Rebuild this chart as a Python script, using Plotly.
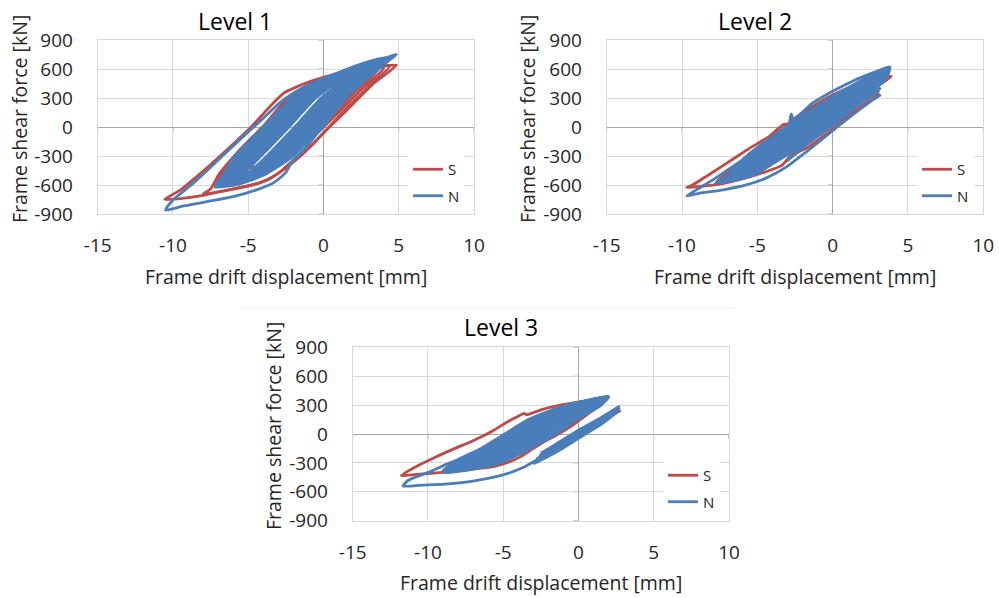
import plotly.graph_objects as go

W, H = 999, 598
RED = "#BE4B48"
BLUE = "#4A7EBB"
FONT = "Open Sans"
TXT = "#262626"

LEVELS = ["Level 1", "Level 2", "Level 3"]
SERIES = ["S", "N"]
X_TICKS = [-15, -10, -5, 0, 5, 10]
Y_TICKS = [-900, -600, -300, 0, 300, 600, 900]
X_TITLE = "Frame drift displacement [mm]"
Y_TITLE = "Frame shear force [kN]"

# Hysteresis cycles as (drift [mm], shear [kN]) pairs.
# LOOPS: closed cycles (right peak -> unloading -> left peak -> reloading).
# BRANCHES: open load paths.

# ---------------- Level 1 ----------------
L1_S_LOOPS = [
    [(3.2, 560), (1.8, 350), (0.3, 100), (-1.3, -120), (-3.0, -320), (-4.4, -410), (-5.6, -420),
     (-5.0, -280), (-3.9, -90), (-2.4, 120), (-0.8, 320), (0.8, 450), (2.1, 520)],
    [(3.6, 590), (2.2, 380), (0.6, 120), (-1.0, -110), (-2.8, -330), (-4.5, -450), (-6.5, -500),
     (-5.9, -360), (-4.8, -170), (-3.2, 60), (-1.5, 300), (0.4, 460), (2.0, 550)],
    [(4.0, 610), (2.6, 400), (1.0, 150), (-0.6, -90), (-2.4, -330), (-4.2, -480), (-5.8, -540), (-7.0, -560),
     (-6.5, -420), (-5.4, -230), (-3.8, 10), (-2.0, 300), (0.2, 480), (2.2, 570)],
    [(4.4, 630), (3.0, 420), (1.4, 170), (0.0, -60), (-1.3, -270), (-2.3, -400), (-3.0, -480), (-4.0, -565),
     (-5.2, -615), (-6.6, -660), (-8.0, -695), (-7.5, -640), (-6.9, -480), (-5.7, -260), (-4.0, 10),
     (-2.3, 310), (-0.5, 480), (1.5, 570), (3.2, 620)],
    [(4.85, 640), (3.25, 440), (1.5, 165), (0.2, -30), (-0.75, -185), (-1.85, -322), (-2.7, -440),
     (-3.4, -520), (-4.4, -585), (-5.6, -630), (-6.8, -665), (-8.2, -712), (-9.5, -740), (-10.55, -750),
     (-10.2, -715), (-9.5, -650), (-7.8, -430), (-6.45, -240), (-4.9, -15), (-3.35, 245), (-2.6, 355),
     (-1.85, 410), (-0.75, 478), (0.6, 540), (2.2, 590), (3.7, 625)],
]
L1_S_BRANCHES = []

L1_N_LOOPS = [
    [(3.4, 640), (1.6, 500), (-0.15, 300), (-1.91, 0), (-3.76, -300), (-5.22, -500), (-6.4, -530),
     (-5.49, -500), (-4.15, -300), (-2.29, 0), (-0.51, 300), (1.31, 500), (2.4, 585)],
    [(3.5, 650), (1.74, 500), (0.03, 300), (-1.72, 0), (-3.56, -300), (-5.08, -500), (-6.5, -540),
     (-5.62, -500), (-4.34, -300), (-2.48, 0), (-0.69, 300), (1.16, 500), (2.4, 590)],
    [(3.6, 660), (1.86, 500), (0.17, 300), (-1.57, 0), (-3.4, -300), (-4.97, -500), (-6.55, -545),
     (-5.73, -500), (-4.5, -300), (-2.63, 0), (-0.83, 300), (1.04, 500), (2.4, 595)],
    [(3.7, 670), (1.97, 500), (0.32, 300), (-1.42, 0), (-3.25, -300), (-4.86, -500), (-6.6, -550),
     (-5.84, -500), (-4.65, -300), (-2.78, 0), (-0.98, 300), (0.93, 500), (2.4, 600)],
    [(3.8, 690), (2.1, 500), (0.47, 300), (-1.27, 0), (-3.1, -300), (-4.75, -500), (-6.7, -555),
     (-5.95, -500), (-4.8, -300), (-2.93, 0), (-1.12, 300), (0.8, 500), (2.4, 620)],
    [(3.9, 680), (2.2, 500), (0.61, 300), (-1.11, 0), (-2.94, -300), (-4.65, -500), (-6.8, -560),
     (-6.05, -500), (-4.96, -300), (-3.09, 0), (-1.27, 300), (0.7, 500), (2.4, 610)],
    [(4.0, 685), (2.32, 500), (0.75, 300), (-0.96, 0), (-2.78, -300), (-4.54, -500), (-6.85, -565),
     (-6.16, -500), (-5.12, -300), (-3.24, 0), (-1.41, 300), (0.58, 500), (2.4, 615)],
    [(4.1, 690), (2.44, 500), (0.89, 300), (-0.81, 0), (-2.62, -300), (-4.43, -500), (-5.8, -555), (-6.9, -570),
     (-6.27, -500), (-5.28, -300), (-3.39, 0), (-1.55, 300), (0.46, 500), (2.4, 620)],
    [(4.2, 695), (2.55, 500), (1.04, 300), (-0.66, 0), (-2.47, -300), (-4.33, -500), (-5.75, -565), (-6.95, -580),
     (-6.38, -500), (-5.43, -300), (-3.54, 0), (-1.7, 300), (0.35, 500), (2.4, 625)],
    [(4.3, 700), (2.67, 500), (1.18, 300), (-0.5, 0), (-2.31, -300), (-4.22, -500), (-5.7, -570), (-7.0, -590),
     (-6.48, -500), (-5.59, -300), (-3.7, 0), (-1.84, 300), (0.23, 500), (2.4, 630)],
    [(4.15, 716), (2.8, 500), (1.3, 300), (-0.35, 0), (-2.15, -300), (-4.1, -500), (-5.65, -580), (-7.1, -605),
     (-6.6, -500), (-5.75, -300), (-3.85, 0), (-2.0, 300), (0.1, 500), (2.3, 640)],
    [(4.5, 720), (2.9, 500), (1.47, 300), (-0.2, 0), (-2.0, -300), (-4.0, -500), (-5.6, -590), (-7.2, -620),
     (-6.7, -500), (-5.9, -300), (-4.0, 0), (-2.13, 300), (0.0, 500), (2.4, 640)],
    [(4.85, 751), (4.1, 664), (3.25, 590), (1.9, 370), (0.6, 128), (-0.3, -45), (-1.2, -218), (-2.1, -360),
     (-2.5, -470), (-3.3, -575), (-4.45, -650), (-6.0, -720), (-7.75, -772), (-9.3, -817), (-10.5, -860),
     (-10.0, -755), (-8.65, -582), (-7.75, -452), (-6.65, -290), (-5.1, -65), (-4.0, 90), (-2.95, 245),
     (-2.05, 345), (-1.15, 425), (0.15, 510), (1.5, 578), (2.8, 647), (4.15, 716)],
]
L1_N_BRANCHES = []

# ---------------- Level 2 ----------------
L2_S_LOOPS = [
    [(3.0, 480), (1.8, 330), (0.3, 130), (-1.0, -40), (-2.8, -250), (-4.8, -400), (-6.5, -490), (-7.7, -565),
     (-7.0, -480), (-5.6, -320), (-3.2, -20), (-1.4, 180), (0.4, 340), (2.0, 440)],
    [(3.5, 510), (2.2, 360), (0.6, 150), (-0.7, -20), (-2.4, -230), (-4.4, -400), (-6.3, -500), (-7.7, -575),
     (-7.2, -500), (-5.8, -330), (-3.5, -40), (-1.7, 170), (0.2, 340), (2.0, 450)],
    [(3.9, 525), (3.0, 425), (1.8, 275), (0.3, 85), (-0.9, -50), (-2.0, -190), (-2.9, -315), (-3.4, -400),
     (-4.3, -455), (-5.7, -525), (-7.3, -585), (-8.8, -615), (-9.7, -628), (-9.3, -600), (-8.4, -512),
     (-6.85, -356), (-5.5, -218), (-4.2, -97), (-3.3, 24), (-3.0, 32), (-2.65, 76), (-1.3, 215),
     (0.0, 330), (1.3, 420), (2.65, 490)],
]
L2_S_BRANCHES = [
    [(-3.1, -355), (-2.3, -262), (-1.55, -200), (-0.22, -45), (1.3, 145), (2.3, 260), (3.1, 348)],
]

L2_N_LOOPS = [
    [(3.5, 585), (2.87, 500), (1.01, 300), (-1.6, 0), (-4.37, -300), (-6.1, -500), (-7.2, -540),
     (-6.19, -500), (-4.49, -300), (-1.74, 0), (0.89, 300), (2.79, 500)],
    [(3.55, 590), (2.96, 500), (1.15, 300), (-1.41, 0), (-4.2, -300), (-6.0, -500), (-7.3, -545),
     (-6.3, -500), (-4.66, -300), (-1.93, 0), (0.75, 300), (2.7, 500), (3.0, 530)],
    [(3.6, 595), (3.07, 500), (1.33, 300), (-1.18, 0), (-3.99, -300), (-5.86, -500), (-7.4, -550),
     (-6.44, -500), (-4.87, -300), (-2.16, 0), (0.57, 300), (2.59, 500), (3.0, 540)],
    [(3.65, 600), (3.19, 500), (1.51, 300), (-0.96, 0), (-3.79, -300), (-5.73, -500), (-7.5, -560),
     (-6.58, -500), (-5.07, -300), (-2.39, 0), (0.39, 300), (2.47, 500), (3.0, 550)],
    [(3.7, 605), (3.31, 500), (1.69, 300), (-0.73, 0), (-3.59, -300), (-5.59, -500), (-7.6, -565),
     (-6.71, -500), (-5.27, -300), (-2.61, 0), (0.21, 300), (2.35, 500), (3.0, 555)],
    [(3.75, 615), (3.43, 500), (1.88, 300), (-0.48, 0), (-3.37, -300), (-5.44, -500), (-7.7, -575),
     (-6.86, -500), (-5.49, -300), (-2.86, 0), (0.02, 300), (2.23, 500), (3.0, 565)],
    [(3.8, 620), (3.55, 500), (2.07, 300), (-0.24, 0), (-3.15, -300), (-5.3, -500), (-7.8, -585),
     (-7.0, -500), (-5.71, -300), (-3.1, 0), (-0.17, 300), (2.11, 500), (3.0, 575)],
]
L2_N_BRANCHES = [
    [(3.2, 335), (2.43, 255), (1.32, 125), (0.22, -10), (-0.88, -150), (-1.99, -285), (-3.09, -415),
     (-4.42, -529), (-5.74, -599), (-7.28, -650), (-8.83, -685), (-9.67, -713), (-9.05, -650), (-7.95, -547),
     (-6.62, -408), (-5.3, -270), (-3.97, -131), (-2.95, -5), (-2.75, 135), (-2.6, 80), (-1.32, 249),
     (0.0, 370), (1.32, 474), (2.65, 560), (3.75, 623)],
    [(3.2, 405), (2.0, 285), (0.2, 70), (-1.0, -80), (-2.2, -230), (-3.0, -340)],
    [(3.1, 380), (1.8, 240), (0.2, 40), (-1.1, -110), (-2.3, -250), (-3.0, -350)],
]

# ---------------- Level 3 ----------------
L3_S_LOOPS = [
    [(1.5, 350), (0.4, 210), (-1.0, 40), (-2.2, -70), (-3.6, -180), (-5.4, -280), (-7.2, -330), (-8.3, -350),
     (-7.6, -280), (-6.0, -150), (-4.2, 20), (-2.6, 150), (-0.8, 270), (0.5, 320)],
    [(1.9, 365), (0.8, 230), (-0.6, 70), (-1.8, -40), (-3.2, -150), (-5.0, -270), (-7.0, -340), (-9.0, -378),
     (-8.2, -300), (-6.5, -185), (-4.6, 0), (-3.0, 140), (-1.1, 270), (0.7, 340)],
    [(2.0, 378), (1.3, 290), (0.6, 210), (-0.7, 76), (-2.0, -50), (-3.2, -170), (-3.9, -240), (-4.7, -295),
     (-5.6, -335), (-6.7, -360), (-7.8, -380), (-8.9, -395), (-10.0, -410), (-11.1, -425), (-11.77, -432),
     (-10.9, -347), (-9.55, -243), (-8.2, -149), (-6.9, -62), (-5.8, 24), (-4.7, 128), (-4.0, 185),
     (-3.6, 215), (-3.45, 200), (-2.5, 250), (-1.15, 302), (0.2, 337), (1.5, 365)],
]
L3_S_BRANCHES = [
    [(0.0, -10), (1.2, 110), (2.8, 245)],
]

L3_N_LOOPS = [
    [(1.7, 365), (0.44, 300), (-1.62, 150), (-3.11, 0), (-4.76, -150), (-6.72, -300), (-8.4, -365),
     (-6.88, -300), (-4.92, -150), (-3.29, 0), (-1.78, 150), (0.32, 300)],
    [(1.75, 368), (0.58, 300), (-1.41, 150), (-2.89, 0), (-4.54, -150), (-6.51, -300), (-8.5, -370),
     (-7.09, -300), (-5.14, -150), (-3.51, 0), (-1.99, 150), (0.18, 300), (1.0, 335)],
    [(1.8, 372), (0.76, 300), (-1.16, 150), (-2.62, 0), (-4.28, -150), (-6.26, -300), (-8.6, -375),
     (-7.34, -300), (-5.4, -150), (-3.78, 0), (-2.24, 150), (0.0, 300), (1.0, 340)],
    [(1.85, 375), (0.95, 300), (-0.9, 150), (-2.35, 0), (-4.02, -150), (-6.0, -300), (-8.7, -380),
     (-7.6, -300), (-5.66, -150), (-4.05, 0), (-2.5, 150), (-0.19, 300), (1.0, 345)],
    [(1.9, 380), (1.13, 300), (-0.64, 150), (-2.08, 0), (-3.76, -150), (-5.74, -300), (-7.3, -350), (-8.8, -385),
     (-7.86, -300), (-5.92, -150), (-4.32, 0), (-2.76, 150), (-0.37, 300), (1.0, 350)],
    [(1.95, 385), (1.32, 300), (-0.37, 150), (-1.79, 0), (-3.48, -150), (-5.47, -300), (-7.1, -355), (-8.9, -390),
     (-8.13, -300), (-6.2, -150), (-4.61, 0), (-3.03, 150), (-0.56, 300), (0.95, 355)],
    [(2.0, 390), (1.51, 300), (-0.1, 150), (-1.5, 0), (-3.2, -150), (-5.2, -300), (-6.9, -360), (-9.0, -400),
     (-8.4, -300), (-6.48, -150), (-4.9, 0), (-3.3, 150), (-0.75, 300), (0.9, 360)],
]
L3_N_BRANCHES = [
    [(2.65, 267), (2.17, 222), (1.06, 111), (-0.27, -28), (-1.59, -167), (-2.7, -264), (-3.58, -340),
     (-4.69, -409), (-6.02, -461), (-7.35, -496), (-8.9, -520), (-10.44, -531), (-11.66, -541),
     (-11.3, -480), (-10.0, -400), (-8.7, -310), (-7.5, -240), (-6.5, -180), (-5.4, -80), (-4.6, 20),
     (-3.3, 150), (-1.2, 280), (0.6, 350), (2.0, 392)],
    [(2.75, 290), (1.5, 170), (0.0, 40), (-1.5, -105), (-2.5, -200)],
    [(2.75, 275), (1.5, 150), (0.0, 20), (-1.5, -125), (-2.6, -225)],
    [(2.7, 255), (1.5, 135), (0.0, 0), (-1.5, -145), (-2.8, -260)],
    [(2.6, 240), (1.5, 120), (0.0, -20), (-1.5, -165), (-2.9, -285)],
    [(2.5, 220), (1.5, 100), (0.0, -45), (-1.5, -190), (-3.0, -310)],
]

DATA = {
    1: {"S": (L1_S_LOOPS, L1_S_BRANCHES), "N": (L1_N_LOOPS, L1_N_BRANCHES)},
    2: {"S": (L2_S_LOOPS, L2_S_BRANCHES), "N": (L2_N_LOOPS, L2_N_BRANCHES)},
    3: {"S": (L3_S_LOOPS, L3_S_BRANCHES), "N": (L3_N_LOOPS, L3_N_BRANCHES)},
}


def build_path(loops, branches):
    xs, ys = [], []
    for loop in loops:
        pts = list(loop)
        if pts[-1] != pts[0]:
            pts.append(pts[0])
        xs += [p[0] for p in pts] + [None]
        ys += [p[1] for p in pts] + [None]
    for br in branches:
        xs += [p[0] for p in br] + [None]
        ys += [p[1] for p in br] + [None]
    return xs, ys


# plot areas in pixels: (left, right, top, bottom)
AREAS = {
    1: (97.7, 474.0, 40.0, 214.0),
    2: (606.7, 983.3, 40.0, 214.0),
    3: (352.7, 729.0, 347.3, 520.7),
}
TITLE_POS = {1: (235, 21), 2: (755, 21), 3: (501, 327)}
YTITLE_X = {1: 20, 2: 528, 3: 273}
LEGEND_POS = {1: (408, 153), 2: (917, 153), 3: (663, 459)}


def px(x):
    return x / W


def py(y):
    return 1 - y / H


fig = go.Figure()
for lvl in (1, 2, 3):
    suffix = "" if lvl == 1 else str(lvl)
    legend_name = "legend" if lvl == 1 else f"legend{lvl}"
    for name, color in zip(SERIES, (RED, BLUE)):
        loops, branches = DATA[lvl][name]
        xs, ys = build_path(loops, branches)
        fig.add_trace(go.Scatter(
            x=xs, y=ys, mode="lines", name=name,
            line=dict(color=color, width=2.8, shape="spline", smoothing=0.6),
            connectgaps=False, legend=legend_name, legendgroup=f"{lvl}{name}",
            xaxis=f"x{suffix}", yaxis=f"y{suffix}", hoverinfo="skip",
        ))

layout = dict(
    template="none",
    width=W, height=H, margin=dict(l=0, r=0, t=0, b=0, autoexpand=False),
    paper_bgcolor="white", plot_bgcolor="white", showlegend=True,
    font=dict(family=FONT, size=19, color=TXT),
)
annotations = []
shapes = []
for lvl in (1, 2, 3):
    suffix = "" if lvl == 1 else str(lvl)
    l, r, t, b = AREAS[lvl]
    axis_common = dict(
        showgrid=True, gridcolor="#d9d9d9", gridwidth=1,
        zeroline=True, zerolinecolor="#a6a6a6", zerolinewidth=1.3,
        showline=True, linecolor="#d9d9d9", linewidth=1, mirror=True,
        ticks="", tickfont=dict(family=FONT, size=19, color=TXT),
        fixedrange=True, automargin=False,
    )
    layout[f"xaxis{suffix}"] = dict(
        axis_common, domain=[px(l), px(r)], range=[X_TICKS[0], X_TICKS[-1]],
        tickmode="array", tickvals=X_TICKS, ticktext=[str(v) for v in X_TICKS],
        anchor=f"y{suffix}", ticklabelstandoff=14,
    )
    layout[f"yaxis{suffix}"] = dict(
        axis_common, domain=[py(b), py(t)], range=[Y_TICKS[0], Y_TICKS[-1]],
        tickmode="array", tickvals=Y_TICKS, ticktext=[str(v) for v in Y_TICKS],
        anchor=f"x{suffix}", ticklabelstandoff=20,
    )
    lx, ly = LEGEND_POS[lvl]
    legend_name = "legend" if lvl == 1 else f"legend{lvl}"
    layout[legend_name] = dict(
        x=px(lx), y=py(ly), xanchor="left", yanchor="top",
        bgcolor="white", borderwidth=0, tracegroupgap=4,
        font=dict(family=FONT, size=15, color=TXT), itemwidth=30,
    )
    tx, ty = TITLE_POS[lvl]
    annotations.append(dict(text=LEVELS[lvl - 1], x=px(tx), y=py(ty), xref="paper", yref="paper",
                            showarrow=False, font=dict(family=FONT, size=23, color="black"),
                            xanchor="center", yanchor="middle"))
    annotations.append(dict(text=X_TITLE, x=px((l + r) / 2), y=py(b + 62), xref="paper", yref="paper",
                            showarrow=False, font=dict(family=FONT, size=19.5, color=TXT),
                            xanchor="center", yanchor="middle"))
    annotations.append(dict(text=Y_TITLE, x=px(YTITLE_X[lvl]), y=py((t + b) / 2 - 8), xref="paper", yref="paper",
                            showarrow=False, textangle=-90, font=dict(family=FONT, size=19.5, color=TXT),
                            xanchor="center", yanchor="middle"))
    # small tick marks on the zero axes
    for v in Y_TICKS:
        shapes.append(dict(type="line", xref=f"x{suffix}", yref=f"y{suffix}", xsizemode="pixel", xanchor=0,
                           x0=-5, x1=0, y0=v, y1=v, line=dict(color="#a6a6a6", width=1), layer="below"))
    for v in X_TICKS:
        shapes.append(dict(type="line", xref=f"x{suffix}", yref=f"y{suffix}", ysizemode="pixel", yanchor=0,
                           x0=v, x1=v, y0=-5, y1=0, line=dict(color="#a6a6a6", width=1), layer="below"))

# faint frame edge above the lower chart
shapes.append(dict(type="line", xref="paper", yref="paper", x0=px(240), x1=px(735), y0=py(308), y1=py(308),
                   line=dict(color="#ececec", width=1)))

layout["annotations"] = annotations
layout["shapes"] = shapes
fig.update_layout(**layout)
fig.write_html("out.html")
